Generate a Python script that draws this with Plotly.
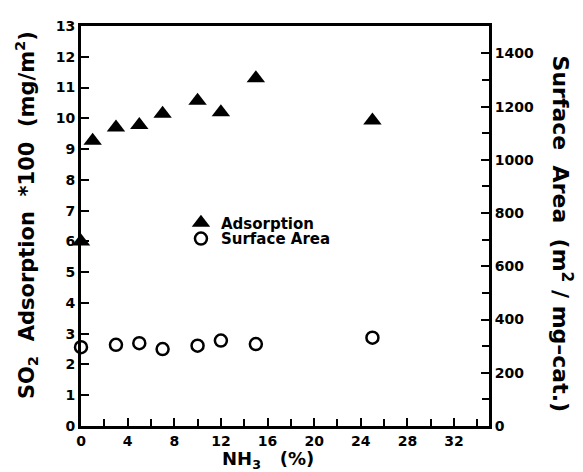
import plotly.graph_objects as go

nh3_ads = [0, 1, 3, 5, 7, 10, 12, 15, 25]
adsorption = [6.0, 9.27, 9.7, 9.78, 10.15, 10.57, 10.2, 11.3, 9.93]
nh3_sa = [0, 3, 5, 7, 10, 12, 15, 25]
surface_area = [296, 305, 311, 289, 302, 321, 308, 332]

FONT = "DejaVu Sans"
fig = go.Figure()
fig.add_trace(go.Scatter(x=nh3_ads, y=adsorption, mode="markers", name="Adsorption",
                         marker=dict(symbol="triangle-up", size=16, color="black"),
                         cliponaxis=False, legend="legend"))
fig.add_trace(go.Scatter(x=nh3_sa, y=surface_area, mode="markers", name="Surface Area",
                         yaxis="y2",
                         marker=dict(symbol="circle-open", size=12, color="black",
                                     line=dict(width=2.5, color="black")),
                         cliponaxis=False, legend="legend2"))

tickfont = dict(family=FONT, size=14, color="black", weight="bold")
legfont = dict(family=FONT, size=15, color="black", weight="bold")
# page body has an 8px default margin, so the figure is offset by 8px
fig.update_layout(
    width=575, height=464,
    margin=dict(l=73, r=94, t=10, b=46),
    paper_bgcolor="white", plot_bgcolor="white",
    showlegend=True,
    legend=dict(x=0.245, y=0.5075, xanchor="left", yanchor="middle", font=legfont,
                bgcolor="rgba(0,0,0,0)"),
    legend2=dict(x=0.245, y=0.468, xanchor="left", yanchor="middle", font=legfont,
                 bgcolor="rgba(0,0,0,0)"),
    xaxis=dict(range=[0, 35], dtick=4, tick0=0, ticks="inside", ticklen=8, tickwidth=2,
               tickcolor="black", showline=True, linewidth=3, linecolor="black",
               mirror=True, showgrid=False, zeroline=False, tickfont=tickfont,
               minor=dict(dtick=2, ticks="inside", ticklen=7, tickwidth=2, tickcolor="black")),
    yaxis=dict(range=[0, 13], dtick=1, ticks="inside", ticklen=8, tickwidth=2,
               tickcolor="black", showline=True, linewidth=3, linecolor="black",
               showgrid=False, zeroline=False, tickfont=tickfont),
    yaxis2=dict(range=[0, 1503], dtick=200, overlaying="y", side="right", ticks="inside",
                ticklen=8, tickwidth=2, tickcolor="black", showline=True, linewidth=3,
                linecolor="black", showgrid=False, zeroline=False, tickfont=tickfont,
                minor=dict(dtick=100, ticks="inside", ticklen=7, tickwidth=2, tickcolor="black")),
)

fig.add_annotation(text="SO<sub>2</sub>  Adsorption  *100  (mg/m<sup>2</sup>)", textangle=-90,
                   xref="paper", yref="paper", x=-0.135, y=0.527, showarrow=False,
                   xanchor="center", yanchor="middle",
                   font=dict(family=FONT, size=21, color="black", weight="bold"))
fig.add_annotation(text="Surface  Area  (m<sup>2</sup> / mg\u2013cat.)", textangle=90,
                   xref="paper", yref="paper", x=1.18, y=0.48, showarrow=False,
                   xanchor="center", yanchor="middle",
                   font=dict(family=FONT, size=22, color="black", weight="bold"))
fig.add_annotation(text="NH<sub>3</sub>   (%)", xref="paper", yref="paper", x=0.458, y=-0.086,
                   showarrow=False, xanchor="center", yanchor="middle",
                   font=dict(family=FONT, size=18, color="black", weight="bold"))

fig.write_html("out.html")
